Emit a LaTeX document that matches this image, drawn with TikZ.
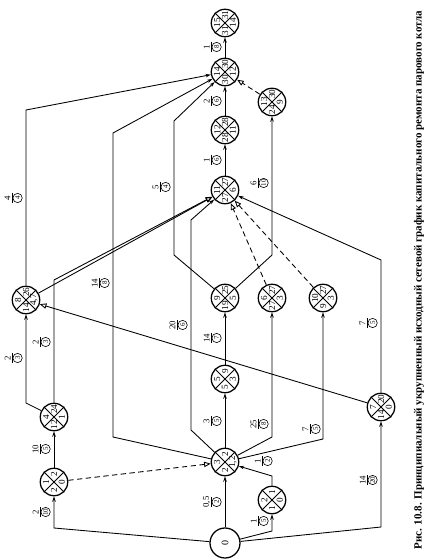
\documentclass[tikz,border=0pt]{standalone}
\usepackage{fontspec}
\setmainfont{Liberation Serif}
\usetikzlibrary{arrows.meta,calc}
\newcommand\evn[7]{%
  \node[evc] (#1) at (#2,#3) {};
  \draw[line width=0.6pt] (#1.45) -- (#1.225) (#1.135) -- (#1.315);
  \node[qn] (#1l) at (#2-7.8,#3) {#4};
  \node[qn] (#1t) at (#2,#3-7.8) {#5};
  \node[qn] (#1r) at (#2+7.8,#3) {#6};
  \node[qn] (#1b) at (#2,#3+7.8) {#7};
}
\newcommand\lab[5]{%
  \node[ln] (#1n) at (#2-4.4,#3) {#4};
  \draw[line width=0.4pt] (#2,#3-5.2) -- (#2,#3+5.2);
  \node[cn] (#1d) at (#2+5.6,#3) {#5};
}
\begin{document}
\begin{tikzpicture}[x=0.75pt,y=-0.75pt,
  evc/.style={circle,draw,line width=0.95pt,minimum size=20.6pt,inner sep=0pt},
  qn/.style={rotate=90,font=\fontsize{6.9}{7}\selectfont,inner sep=0pt},
  ln/.style={rotate=90,font=\fontsize{6.6}{7}\selectfont,inner sep=0pt},
  cn/.style={circle,draw,line width=0.45pt,rotate=90,inner sep=0pt,minimum size=7pt,font=\fontsize{5.2}{5}\selectfont},
  edge/.style={line width=0.65pt,-{Stealth[length=4pt,width=2.6pt]}},
  dum/.style={line width=0.65pt,dash pattern=on 4pt off 2.6pt,-{Triangle[open,length=5pt,width=4pt]}},
  opn/.style={line width=0.65pt,-{Triangle[open,length=5pt,width=4pt]}}]
\fill[white] (0,0) rectangle (428,559);
\useasboundingbox (0,0) rectangle (428,559);
% events
\node[evc,minimum size=22.5pt] (n0) at (225,543) {};
\node[qn,font=\fontsize{7.5}{8}\selectfont] (n0t) at (225,543) {0};
\evn{n1}{54}{482}{1}{2}{0}{2}
\evn{n2}{272}{500}{2}{1}{0}{1}
\evn{n3}{225}{462}{3}{2}{1,2}{2}
\evn{n4}{54}{417}{4}{24}{1}{12}
\evn{n5}{225}{379}{5}{9}{3}{5}
\evn{n6}{272}{298}{6}{27}{3}{27}
\evn{n7}{381}{407}{7}{20}{0}{14}
\evn{n8}{26}{300}{8}{26}{4,7}{14}
\evn{n9}{225}{298}{9}{25}{5}{19}
\evn{n10}{323}{298}{10}{27}{3}{9}
\evn{n11}{225}{190}{11}{27}{6}{27}
\evn{n12}{225}{130}{12}{28}{11}{28}
\evn{n13}{272}{102}{13}{30}{9}{24}
\evn{n14}{225}{72}{14}{30}{12}{30}
\evn{n15}{225}{23}{15}{31}{14}{31}
% connectors
\draw[edge] (n0) -- (54,528) -- (n1);
\draw[edge] (n0) -- (272,531) -- (n2);
\draw[edge] (n0) -- (n3);
\draw[edge] (n0) -- (381,527) -- (n7);
\draw[dum] (n1) -- (n3);
\draw[edge] (n1) -- (n4);
\draw[edge] (n2) -- (272,476) -- (n3);
\draw[edge] (n3) -- (n5);
\draw[edge] (n3) -- (272,437) -- (n6);
\draw[edge] (n3) -- (323,439) -- (n10);
\draw[edge] (n3) -- (113,437) -- (113,133) -- (n14);
\draw[edge] (n3) -- (191,430) -- (191,220) -- (n11);
\draw[edge] (n4) -- (26,403) -- (n8);
\draw[opn] (n4) -- (54,280) -- (n11);
\draw[edge] (n5) -- (n9);
\draw[opn] (n7) -- (n8);
\draw[edge] (n7) -- (381,260) -- (n11);
\draw[opn] (n8) -- (n11);
\draw[edge] (n8) -- (26,110) -- (n14);
\draw[edge] (n9) -- (174,255) -- (174,121) -- (n14);
\draw[edge] (n9) -- (272,255) -- (n13);
\draw[dum] (n6) -- (n11);
\draw[dum] (n10) -- (n11);
\draw[edge] (n11) -- (n12);
\draw[edge] (n12) -- (n14);
\draw[dum] (n13) -- (n14);
\draw[edge] (n14) -- (n15);
% labels
\lab{la}{211}{47}{1}{8}
\lab{lb}{211}{101}{2}{6}
\lab{lc}{211}{160}{1}{6}
\lab{ld}{258}{183}{6}{10}
\lab{le}{160}{187}{5}{4}
\lab{lf}{12}{198}{4}{4}
\lab{lg}{99}{283}{14}{8}
\lab{lh}{177}{325}{20}{6}
\lab{li}{367}{323}{7}{5}
\lab{lj}{211}{338}{14}{7}
\lab{lk}{40}{342}{2}{3}
\lab{ll}{12}{358}{2}{3}
\lab{lm}{211}{421}{3}{5}
\lab{ln}{258}{424}{25}{8}
\lab{lo}{310}{429}{7}{5}
\lab{lp}{40}{449}{10}{5}
\lab{lq}{262}{461}{1}{2}
\lab{lr}{211}{502}{0,5}{2}
\lab{ls}{40}{512}{2}{10}
\lab{lt}{258}{521}{1}{5}
\lab{lu}{367}{480}{14}{20}
% caption
\node[rotate=90,font=\bfseries\fontsize{8.25}{10}\selectfont,inner sep=0pt] (cap) at (419,280) {Рис. 10.8. Принципиальный укрупненный исходный сетевой график капитального ремонта парового котла};
\end{tikzpicture}
\end{document}
